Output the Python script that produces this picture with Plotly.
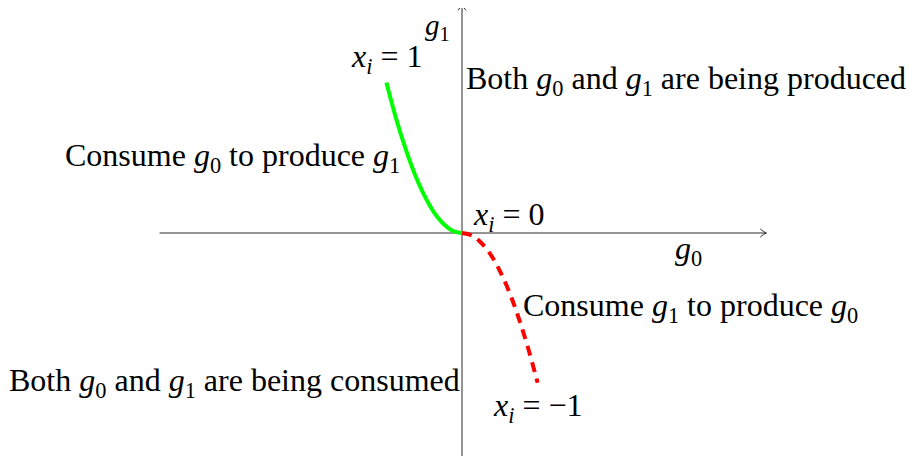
import plotly.graph_objects as go

# ---- data (in axis units) ----
green_g0 = [-2.0, -1.75, -1.5, -1.25, -1.0, -0.75, -0.5, -0.25, 0.0]
green_g1 = [3.98, 3.05, 2.25, 1.56, 1.0, 0.56, 0.25, 0.06, 0.0]
red_g0 = [0.0, 0.25, 0.5, 0.75, 1.0, 1.25, 1.5, 1.75, 2.0]
red_g1 = [0.0, -0.06, -0.25, -0.56, -1.0, -1.56, -2.25, -3.05, -3.96]

x_axis_span = [-8.0, 8.05]
y_axis_span = [-6.0, 6.05]

PX = 37.8          # pixels per unit
PAGE_OFF = 8       # default body margin of the html page
OX, OY = 462 - PAGE_OFF, 233 - PAGE_OFF  # origin in figure pixels
W, H = 915 - PAGE_OFF, 456 - PAGE_OFF

FONT = "Liberation Serif"
FS = 32

fig = go.Figure()
fig.add_trace(go.Scatter(x=green_g0, y=green_g1, mode="lines", line=dict(color="#00ff00", width=4, shape="spline"),
                         hoverinfo="skip", showlegend=False))
fig.add_trace(go.Scatter(x=red_g0, y=red_g1, mode="lines", line=dict(color="#ff0000", width=4, shape="spline", dash="10px,7px"),
                         hoverinfo="skip", showlegend=False))

axis_col = "#2a2a2a"
shapes = [
    dict(type="line", x0=x_axis_span[0], x1=x_axis_span[1], y0=0, y1=0, line=dict(color=axis_col, width=1), layer="below"),
    dict(type="line", x0=0, x1=0, y0=y_axis_span[0], y1=y_axis_span[1], line=dict(color=axis_col, width=1), layer="below"),
]
# open arrow tips
ah, aw = 6 / PX, 4 / PX
tx = x_axis_span[1]
shapes.append(dict(type="path", path=f"M {tx-ah},{aw} Q {tx-ah*0.4},{aw*0.2} {tx},0 Q {tx-ah*0.4},{-aw*0.2} {tx-ah},{-aw}",
                   line=dict(color=axis_col, width=1)))
ty = y_axis_span[1]
shapes.append(dict(type="path", path=f"M {aw},{ty-ah} Q {aw*0.2},{ty-ah*0.4} 0,{ty} Q {-aw*0.2},{ty-ah*0.4} {-aw},{ty-ah}",
                   line=dict(color=axis_col, width=1)))

def p2d(px, py):
    # page pixel -> data units
    return (px - PAGE_OFF - OX) / PX, (OY - (py - PAGE_OFF)) / PX

# text, page-x, page-y, x-anchor, y-anchor, size
labels = [
    ("<i>g</i><sub>1</sub>", 451, 8, "right", "top", 29),
    ("<i>x<sub>i</sub></i> = 1", 386, 58, "center", "middle", FS),
    ("Both <i>g</i><sub>0</sub> and <i>g</i><sub>1</sub> are being produced", 465, 80, "left", "middle", FS),
    ("Consume <i>g</i><sub>0</sub> to produce <i>g</i><sub>1</sub>", 401, 157, "right", "middle", FS),
    ("<i>x<sub>i</sub></i> = 0", 472, 216, "left", "middle", FS),
    ("<i>g</i><sub>0</sub>", 688, 250, "center", "middle", FS),
    ("Consume <i>g</i><sub>1</sub> to produce <i>g</i><sub>0</sub>", 522, 307, "left", "middle", FS),
    ("Both <i>g</i><sub>0</sub> and <i>g</i><sub>1</sub> are being consumed", 461, 382, "right", "middle", FS),
    ("<i>x<sub>i</sub></i> = \u22121", 538, 407, "center", "middle", FS),
]
annotations = []
for text, px, py, anc, vanc, size in labels:
    x, y = p2d(px, py)
    annotations.append(dict(x=x, y=y, xref="x", yref="y", text=text, showarrow=False, borderpad=0,
                            xanchor=anc, yanchor=vanc, font=dict(family=FONT, size=size, color="black")))

fig.update_layout(
    width=W, height=H,
    margin=dict(l=0, r=0, t=0, b=0),
    paper_bgcolor="white", plot_bgcolor="white",
    xaxis=dict(range=[-OX / PX, (W - OX) / PX], visible=False, fixedrange=True),
    yaxis=dict(range=[(OY - H) / PX, OY / PX], visible=False, fixedrange=True),
    shapes=shapes, annotations=annotations,
    showlegend=False,
)

fig.write_html("out.html")
